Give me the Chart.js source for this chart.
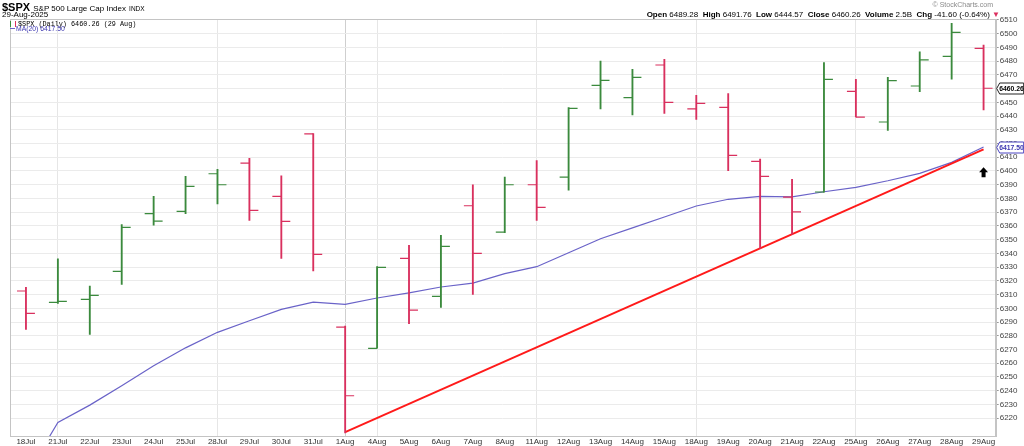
<!DOCTYPE html>
<html>
<head>
<meta charset="utf-8">
<title>$SPX Daily</title>
<script src="https://cdn.jsdelivr.net/npm/chart.js@4.4.1/dist/chart.umd.min.js"></script>
<style>
  html, body { margin: 0; padding: 0; background: #fff; }
  #wrap { position: relative; width: 1024px; height: 446px; overflow: hidden;
          font-family: "Liberation Sans", Arial, sans-serif; color: #000; }
  #chart { position: absolute; left: 0; top: 0; }
  .txt { position: absolute; white-space: nowrap; line-height: 1; }
  .mono { font-family: "Liberation Mono", "DejaVu Sans Mono", monospace; }
  .icon { display: inline-block; width: 4px; height: 6px; border-left: 1px solid #3a8a3c;
          border-right: 1px solid #dc2f5f; margin-right: 2px; vertical-align: -1px; }
  .dash { display: inline-block; width: 5px; height: 0; border-top: 1.5px solid #6a63c8;
          vertical-align: 2px; margin-right: 1px; }
</style>
</head>
<body>
<div id="wrap">
  <canvas id="chart" width="1024" height="446"></canvas>

  <!-- header -->
  <div class="txt" style="left:2px; top:1.5px; font-size:11px;"><b>$SPX</b>
    <span style="font-size:8px;">S&amp;P 500 Large Cap Index</span>
    <span style="font-size:6.5px;">INDX</span></div>
  <div class="txt" style="left:2px; top:11px; font-size:8px;">29-Aug-2025</div>
  <div class="txt" style="right:31px; top:1px; font-size:7px; color:#8a8a8a;">© StockCharts.com</div>
  <div class="txt" style="right:24px; top:11px; font-size:8px;">
    <b>Open</b> 6489.28 &nbsp;<b>High</b> 6491.76 &nbsp;<b>Low</b> 6444.57 &nbsp;<b>Close</b> 6460.26
    &nbsp;<b>Volume</b> 2.5B &nbsp;<b>Chg</b> -41.60 (-0.64%) <span style="color:#dc2f5f;">▼</span></div>

  <!-- legend inside plot -->
  <div class="txt mono" style="left:10px; top:20.5px; font-size:6.8px;"><span class="icon"></span>$SPX (Daily) 6460.26 (29 Aug)</div>
  <div class="txt" style="left:10px; top:26px; font-size:6.8px; color:#3c36b0;"><span class="dash"></span>MA(20) 6417.50</div>
</div>

<script>
// ---------- data ----------
const dates = ['18Jul', '21Jul', '22Jul', '23Jul', '24Jul', '25Jul', '28Jul', '29Jul', '30Jul', '31Jul',
               '1Aug', '4Aug', '5Aug', '6Aug', '7Aug', '8Aug', '11Aug', '12Aug', '13Aug', '14Aug',
               '15Aug', '18Aug', '19Aug', '20Aug', '21Aug', '22Aug', '25Aug', '26Aug', '27Aug', '28Aug', '29Aug'];

const opens  = [6312.6, 6304.3, 6306.5, 6326.9, 6368.9, 6370.6, 6398.0, 6405.8, 6381.5, 6427.1,
                6286.3, 6270.8, 6336.4, 6308.7, 6374.7, 6355.5, 6390.0, 6395.6, 6462.4, 6453.4,
                6477.2, 6445.2, 6446.4, 6407.0, 6381.0, 6384.7, 6458.0, 6435.7, 6461.9, 6483.5, 6489.28];
const highs  = [6315.3, 6336.1, 6316.2, 6360.9, 6381.5, 6396.1, 6401.2, 6409.2, 6396.5, 6427.2,
                6287.0, 6330.3, 6345.9, 6353.1, 6390.0, 6395.6, 6407.5, 6446.1, 6480.1, 6474.0,
                6481.3, 6455.1, 6456.3, 6408.7, 6393.9, 6478.9, 6466.8, 6468.2, 6486.7, 6507.6, 6491.76];
const lows   = [6284.7, 6303.6, 6281.0, 6317.4, 6360.6, 6368.9, 6376.0, 6364.0, 6336.4, 6327.3,
                6209.3, 6271.0, 6288.8, 6300.7, 6310.2, 6355.0, 6364.0, 6386.1, 6445.2, 6440.8,
                6442.0, 6437.6, 6400.2, 6343.7, 6353.9, 6384.6, 6439.3, 6429.6, 6457.8, 6466.8, 6444.57];
const closes = [6296.3, 6305.1, 6309.4, 6359.0, 6363.5, 6388.8, 6390.0, 6371.3, 6363.3, 6339.3,
                6236.3, 6329.8, 6298.7, 6345.1, 6340.0, 6390.0, 6373.5, 6445.6, 6466.0, 6468.2,
                6450.0, 6449.3, 6411.4, 6396.1, 6370.3, 6466.8, 6439.3, 6465.8, 6481.0, 6501.0, 6460.26];
const prevClose = 6297.4;   // close before the first bar (only used for the first bar's colour)

// 20-day moving average
const ma20 = [6178.0, 6216.8, 6229.5, 6243.6, 6258.1, 6271.2, 6282.5, 6290.9, 6299.2, 6304.5,
              6302.9, 6307.5, 6311.3, 6315.5, 6318.4, 6325.2, 6330.3, 6340.5, 6350.7, 6358.6,
              6366.5, 6374.5, 6379.4, 6381.5, 6381.2, 6384.9, 6388.1, 6392.9, 6398.3, 6406.3, 6417.5];

// red support trendline (drawn between two dates)
const trendDates  = ['1Aug', '29Aug'];
const trendValues = [6209.8, 6415.8];

// black up-arrow annotation
const arrowDate  = '29Aug';
const arrowValue = 6399;

// axis ticks
const yTicks = [6220, 6230, 6240, 6250, 6260, 6270, 6280, 6290, 6300, 6310, 6320, 6330, 6340, 6350, 6360,
                6370, 6380, 6390, 6400, 6410, 6420, 6430, 6440, 6450, 6460, 6470, 6480, 6490, 6500, 6510];
const weekLines = ['21Jul', '28Jul', '4Aug', '11Aug', '18Aug', '25Aug'];
const monthLine = '1Aug';

// ---------- styling ----------
const UP = '#3b8a3d', DOWN = '#d9305e';
const MA_COLOR = '#6a63c8', TREND_COLOR = '#ff1a1a';
const TICK_OFF = 0.14;    // open/close tick offset from the bar, in bar units

const barColors = closes.map((c, i) => (c >= (i === 0 ? prevClose : closes[i - 1]) ? UP : DOWN));
const idx = (d) => dates.indexOf(d);

Chart.defaults.font.family = '"Liberation Sans", Arial, sans-serif';
Chart.defaults.font.size = 8;
Chart.defaults.color = '#333';

// frame around the plot (top and left sides are not drawn by the axes)
const framePlugin = {
  id: 'frame',
  beforeDatasetsDraw(chart) {
    const a = chart.chartArea, ctx = chart.ctx;
    ctx.save();
    ctx.strokeStyle = '#c4c4c4';
    ctx.lineWidth = 1;
    ctx.strokeRect(Math.round(a.left) + 0.5, Math.round(a.top) + 0.5,
                   Math.round(a.right - a.left), Math.round(a.bottom - a.top));
    ctx.restore();
  }
};

// price tags on the right axis + arrow annotation
const tagPlugin = {
  id: 'tags',
  afterDraw(chart) {
    const ctx = chart.ctx, a = chart.chartArea;
    const ys = chart.scales.y, xs = chart.scales.x;

    function tag(value, text, stroke, color) {
      const yc = Math.round(ys.getPixelForValue(value)) + 0.5;
      const x0 = a.right + 1, w = 27, h = 11;
      ctx.save();
      ctx.beginPath();
      ctx.moveTo(x0, yc);
      ctx.lineTo(x0 + 3, yc - h / 2);
      ctx.lineTo(x0 + w, yc - h / 2);
      ctx.lineTo(x0 + w, yc + h / 2);
      ctx.lineTo(x0 + 3, yc + h / 2);
      ctx.closePath();
      ctx.fillStyle = '#fff';
      ctx.fill();
      ctx.strokeStyle = stroke;
      ctx.lineWidth = 1;
      ctx.stroke();
      ctx.fillStyle = color;
      ctx.font = 'bold 6.8px "Liberation Sans", Arial, sans-serif';
      ctx.textAlign = 'left';
      ctx.textBaseline = 'middle';
      ctx.fillText(text, x0 + 2.5, yc + 0.5);
      ctx.restore();
    }
    const last = closes.length - 1;
    tag(ma20[last], ma20[last].toFixed(2), '#4a44c0', '#3c36b0');
    tag(closes[last], closes[last].toFixed(2), '#222', '#000');

    // up arrow
    const ax = xs.getPixelForValue(idx(arrowDate));
    const ay = ys.getPixelForValue(arrowValue);
    ctx.save();
    ctx.fillStyle = '#000';
    ctx.beginPath();
    ctx.moveTo(ax, ay - 5);
    ctx.lineTo(ax + 4.5, ay);
    ctx.lineTo(ax + 2, ay);
    ctx.lineTo(ax + 2, ay + 5);
    ctx.lineTo(ax - 2, ay + 5);
    ctx.lineTo(ax - 2, ay);
    ctx.lineTo(ax - 4.5, ay);
    ctx.closePath();
    ctx.fill();
    ctx.restore();
  }
};

new Chart(document.getElementById('chart'), {
  type: 'line',
  data: {
    datasets: [
      {
        type: 'line', label: 'MA(20)',
        data: ma20.map((v, i) => ({ x: i, y: v })),
        borderColor: MA_COLOR, borderWidth: 1.2, pointRadius: 0, tension: 0, order: 3
      },
      {
        type: 'line', label: 'trend',
        data: trendDates.map((d, i) => ({ x: idx(d), y: trendValues[i] })),
        borderColor: TREND_COLOR, borderWidth: 2, pointRadius: 0, tension: 0, order: 2
      },
      {
        type: 'bar', label: 'range',
        data: dates.map((d, i) => ({ x: i, y: [lows[i], highs[i]] })),
        backgroundColor: barColors, borderWidth: 0, barThickness: 1.2, grouped: false, order: 1
      },
      {
        type: 'line', label: 'open', showLine: false,
        data: dates.map((d, i) => ({ x: i - TICK_OFF, y: opens[i] })),
        pointStyle: 'line', pointRadius: 4.5, pointBorderWidth: 1.2,
        pointBorderColor: barColors, order: 0
      },
      {
        type: 'line', label: 'close', showLine: false,
        data: dates.map((d, i) => ({ x: i + TICK_OFF, y: closes[i] })),
        pointStyle: 'line', pointRadius: 4.5, pointBorderWidth: 1.2,
        pointBorderColor: barColors, order: 0
      }
    ]
  },
  plugins: [framePlugin, tagPlugin],
  options: {
    responsive: false,
    animation: false,
    events: [],
    layout: { padding: { left: 10, top: 19, right: 0, bottom: 0 } },
    scales: {
      x: {
        type: 'linear',
        offset: false,
        min: -0.5, max: 30.38,
        afterBuildTicks: (s) => { s.ticks = dates.map((d, i) => ({ value: i })); },
        afterFit: (s) => { s.height = 10; },
        ticks: {
          autoSkip: false, maxRotation: 0, padding: 1,
          callback: (v) => dates[v] || ''
        },
        grid: {
          offset: false, drawTicks: false, lineWidth: 1,
          color: (c) => {
            const d = dates[c.tick && c.tick.value];
            if (d === monthLine) return '#cfcfcf';
            if (weekLines.includes(d)) return '#e6e6e6';
            return 'rgba(0,0,0,0)';
          }
        },
        border: { display: true, color: '#c4c4c4' }
      },
      y: {
        position: 'right',
        min: 6207, max: 6510.7,
        afterBuildTicks: (s) => { s.ticks = yTicks.map((v) => ({ value: v })); },
        afterFit: (s) => { s.width = 28.3; },
        ticks: { padding: 1, color: '#444', callback: (v) => String(v) },
        grid: { color: '#ebebeb', tickLength: 3, tickColor: '#999' },
        border: { display: true, color: '#c4c4c4' }
      }
    },
    plugins: {
      legend: { display: false },
      tooltip: { enabled: false }
    }
  }
});
</script>
</body>
</html>
